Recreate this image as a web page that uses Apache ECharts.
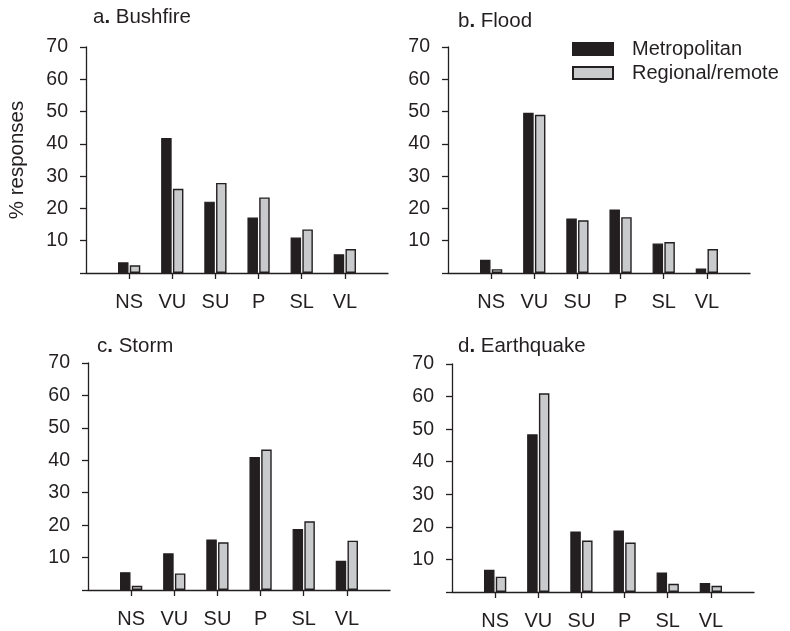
<!DOCTYPE html>
<html>
<head>
<meta charset="utf-8">
<script src="https://cdn.jsdelivr.net/npm/echarts@6/dist/echarts.min.js"></script>
<style>
  html, body { margin: 0; padding: 0; background: #fff; }
  #myChart { width: 790px; height: 631px; }
</style>
</head>
<body>
<div id="myChart"></div>
<script>
// 类别与数值
var categories = ['NS', 'VU', 'SU', 'P', 'SL', 'VL'];
var yTicks = [0, 10, 20, 30, 40, 50, 60, 70];
var panelTitles = ['a', 'b', 'c', 'd'];
var panelNames = ['Bushfire', 'Flood', 'Storm', 'Earthquake'];
var seriesNames = ['Metropolitan', 'Regional/remote'];

var bushfireMetro = [3.3, 41.8, 22.1, 17.2, 11.0, 5.8];
var bushfireRegional = [2.4, 26.1, 27.9, 23.4, 13.5, 7.4];
var floodMetro = [4.1, 49.6, 16.9, 19.7, 9.1, 1.4];
var floodRegional = [1.2, 49.0, 16.3, 17.3, 9.6, 7.4];
var stormMetro = [5.5, 11.3, 15.6, 41.0, 18.8, 9.0];
var stormRegional = [1.3, 5.1, 14.7, 43.3, 21.2, 15.2];
var quakeMetro = [6.8, 48.4, 18.6, 18.9, 6.0, 2.8];
var quakeRegional = [4.7, 61.0, 15.8, 15.2, 2.5, 1.9];

var metroData = [bushfireMetro, floodMetro, stormMetro, quakeMetro];
var regionalData = [bushfireRegional, floodRegional, stormRegional, quakeRegional];

var ink = '#231f20';
var greyFill = '#c9cacc';
var font = 'Liberation Sans, Arial, sans-serif';

// 面板位置
var grids = [
    {left: 86, top: 47, width: 302, height: 226},
    {left: 448, top: 47, width: 302, height: 226},
    {left: 88, top: 363, width: 302, height: 227},
    {left: 452, top: 364, width: 302, height: 228}
];
var titlePos = [
    {left: 93, top: 7},
    {left: 458, top: 11},
    {left: 97, top: 336},
    {left: 458, top: 336}
];

// 两端留一个空位
var paddedCats = [''].concat(categories).concat(['']);
function pad(arr) {
    return ['-'].concat(arr).concat(['-']);
}

var title = [], xAxis = [], yAxis = [], series = [];
for (var i = 0; i < 4; i++) {
    title.push({
        text: '{n|' + panelTitles[i] + '}{d|.}{n| ' + panelNames[i] + '}',
        left: titlePos[i].left,
        top: titlePos[i].top,
        padding: 0,
        textStyle: {
            fontWeight: 'normal',
            rich: {
                n: {fontFamily: font, fontSize: 20.5, color: ink, fontWeight: 'normal'},
                d: {fontFamily: font, fontSize: 20.5, color: ink, fontWeight: 'bold'}
            }
        }
    });
    xAxis.push({
        type: 'category',
        gridIndex: i,
        data: paddedCats,
        boundaryGap: false,
        axisLine: {lineStyle: {color: ink, width: 1.3}},
        axisTick: {
            length: 6,
            lineStyle: {color: ink, width: 1.3},
            interval: function (idx) { return idx > 0 && idx < paddedCats.length - 1; }
        },
        axisLabel: {
            margin: 19,
            fontFamily: font,
            fontSize: 20,
            color: ink,
            interval: 0
        },
        splitLine: {show: false}
    });
    yAxis.push({
        type: 'value',
        gridIndex: i,
        min: yTicks[0],
        max: yTicks[yTicks.length - 1],
        interval: 10,
        name: i === 0 ? '% responses' : '',
        nameLocation: 'middle',
        nameGap: 58,
        nameTextStyle: {fontFamily: font, fontSize: 20.5, color: ink},
        axisLine: {show: true, lineStyle: {color: ink, width: 1.3}},
        axisTick: {show: true, length: 6, lineStyle: {color: ink, width: 1.3}},
        axisLabel: {
            margin: 18,
            fontFamily: font,
            fontSize: 19.5,
            color: ink,
            formatter: function (v) { return v === 0 ? '' : v; }
        },
        splitLine: {show: false}
    });
    series.push({
        name: seriesNames[0],
        type: 'bar',
        xAxisIndex: i,
        yAxisIndex: i,
        data: pad(metroData[i]),
        barWidth: 10.5,
        barGap: '12%',
        itemStyle: {color: ink, borderColor: ink, borderWidth: 1.2}
    });
    series.push({
        name: seriesNames[1],
        type: 'bar',
        xAxisIndex: i,
        yAxisIndex: i,
        data: pad(regionalData[i]),
        barWidth: 10.5,
        barGap: '12%',
        itemStyle: {color: greyFill, borderColor: ink, borderWidth: 1.4}
    });
}

var myChart = echarts.init(document.getElementById('myChart'));
myChart.setOption({
    animation: false,
    backgroundColor: '#fff',
    title: title,
    legend: {
        data: seriesNames,
        orient: 'vertical',
        left: 572,
        top: 39,
        padding: 0,
        itemWidth: 40,
        itemHeight: 12,
        itemGap: 4,
        icon: 'rect',
        textStyle: {
            fontFamily: font,
            fontSize: 20,
            color: ink,
            lineHeight: 20,
            padding: [0, 0, 0, 14]
        }
    },
    grid: grids,
    xAxis: xAxis,
    yAxis: yAxis,
    series: series
});
</script>
</body>
</html>
